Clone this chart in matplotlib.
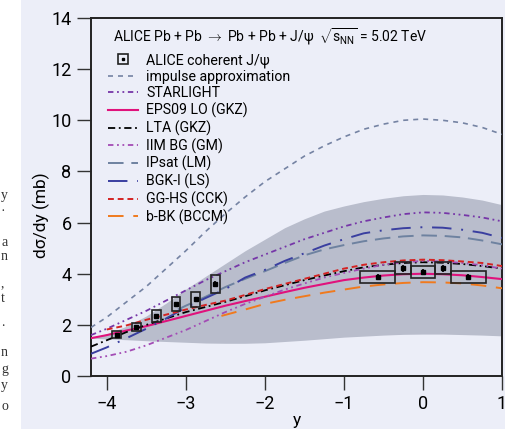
import matplotlib
matplotlib.use("Agg")
import matplotlib.pyplot as plt
from matplotlib.lines import Line2D
from matplotlib.patches import Rectangle
from matplotlib.legend_handler import HandlerTuple

plt.rcParams["font.family"] = ["Roboto", "DejaVu Sans"]
plt.rcParams["mathtext.fontset"] = "custom"
plt.rcParams["mathtext.rm"] = "Roboto"
plt.rcParams["mathtext.it"] = "Roboto"

# rapidity grid for the model curves
ys = [-4.2, -4.0, -3.75, -3.5, -3.25, -3.0, -2.75, -2.5, -2.25, -2.0, -1.75, -1.5,
      -1.25, -1.0, -0.75, -0.5, -0.25, 0.0, 0.25, 0.5, 0.75, 1.0]

impulse = [1.9, 2.3, 2.9, 3.5, 4.2, 4.9, 5.65, 6.35, 7.0, 7.6, 8.1, 8.6,
           9.0, 9.35, 9.65, 9.85, 10.0, 10.05, 10.0, 9.9, 9.72, 9.45]
starlight = [1.6, 1.85, 2.2, 2.55, 2.95, 3.35, 3.75, 4.1, 4.45, 4.75, 5.05, 5.35,
             5.6, 5.85, 6.05, 6.2, 6.33, 6.4, 6.38, 6.3, 6.2, 6.05]
eps09 = [1.48, 1.6, 1.78, 1.95, 2.15, 2.35, 2.55, 2.75, 2.93, 3.1, 3.28, 3.45,
         3.6, 3.75, 3.85, 3.93, 3.98, 4.0, 3.98, 3.94, 3.87, 3.79]
lta = [1.15, 1.4, 1.72, 2.0, 2.25, 2.5, 2.7, 2.9, 3.12, 3.35, 3.55, 3.75,
       3.93, 4.1, 4.25, 4.35, 4.42, 4.45, 4.43, 4.38, 4.3, 4.2]
iim = [0.68, 0.78, 0.95, 1.2, 1.5, 1.8, 2.15, 2.5, 2.82, 3.1, 3.38, 3.62,
       3.85, 4.03, 4.2, 4.35, 4.45, 4.5, 4.48, 4.42, 4.33, 4.2]
bgk = [0.87, 1.12, 1.48, 1.85, 2.25, 2.68, 3.05, 3.4, 3.85, 4.15, 4.5, 4.8,
       5.1, 5.35, 5.58, 5.7, 5.78, 5.82, 5.8, 5.72, 5.6, 5.4]
band_hi = [1.5, 1.65, 1.95, 2.35, 2.85, 3.4, 3.9, 4.4, 4.9, 5.35, 5.8, 6.15,
           6.45, 6.65, 6.82, 6.95, 7.05, 7.1, 7.08, 7.0, 6.88, 6.7]
band_lo = [1.48, 1.45, 1.42, 1.38, 1.35, 1.32, 1.29, 1.28, 1.28, 1.3, 1.35, 1.4,
           1.46, 1.52, 1.56, 1.6, 1.63, 1.64, 1.64, 1.62, 1.6, 1.57]

ys_gg = [-4.0, -3.75, -3.5, -3.25, -3.0, -2.75, -2.5, -2.25, -2.0, -1.75, -1.5,
         -1.25, -1.0, -0.75, -0.5, -0.25, 0.0, 0.25, 0.5, 0.75, 1.0]
gghs = [1.82, 1.98, 2.2, 2.4, 2.6, 2.78, 2.95, 3.17, 3.4, 3.6, 3.8,
        4.0, 4.2, 4.35, 4.45, 4.52, 4.55, 4.53, 4.48, 4.42, 4.3]

ys_ip = [-3.1, -3.0, -2.75, -2.5, -2.25, -2.0, -1.75, -1.5, -1.25, -1.0, -0.75,
         -0.5, -0.25, 0.0, 0.25, 0.5, 0.75, 1.0]
ipsat = [2.6, 2.75, 3.1, 3.48, 3.8, 4.1, 4.42, 4.72, 4.95, 5.12, 5.27,
         5.38, 5.46, 5.5, 5.48, 5.42, 5.3, 5.15]

ys_bbk = [-2.55, -2.25, -2.0, -1.75, -1.5, -1.25, -1.0, -0.75, -0.5, -0.25, 0.0,
          0.25, 0.5, 0.75, 1.0]
bbk = [2.35, 2.6, 2.82, 2.98, 3.12, 3.26, 3.38, 3.5, 3.58, 3.64, 3.67,
       3.66, 3.62, 3.54, 3.43]

# ALICE data, forward rapidity
fwd_lo = [-3.93, -3.68, -3.43, -3.18, -2.93, -2.68]
fwd_hi = [-3.82, -3.57, -3.32, -3.07, -2.82, -2.57]
fwd_val = [1.61, 1.91, 2.36, 2.82, 3.00, 3.59]
fwd_syst = [0.14, 0.16, 0.23, 0.28, 0.29, 0.35]
fwd_stat = [0.05, 0.06, 0.07, 0.08, 0.09, 0.12]
# ALICE data, mid rapidity
mid_lo = [-0.8, -0.35, -0.15, 0.15, 0.35]
mid_hi = [-0.35, -0.15, 0.15, 0.35, 0.8]
mid_val = [3.86, 4.21, 4.07, 4.21, 3.86]
mid_syst = [0.23, 0.23, 0.24, 0.23, 0.23]
mid_stat = [0.12, 0.14, 0.11, 0.14, 0.12]

bg = "#eceef8"
fig = plt.figure(figsize=(5.05, 4.29), dpi=100, facecolor=bg)
ax = fig.add_axes([0.1802, 0.1235, 0.8139, 0.8345])
ax.set_facecolor(bg)

# white page strip on the left with cut-off text
fig.patches.append(Rectangle((0, 0), 21 / 505, 1, transform=fig.transFigure,
                             facecolor="white", edgecolor="none", zorder=-1))
for ch, py in [("y", 195), ("·", 212), ("a", 242), ("n", 257), (",", 284), ("t", 299),
               (".", 323), ("n", 352), ("g", 370), ("y", 386), ("o", 406)]:
    fig.text(1 / 505, 1 - py / 429, ch, fontsize=10, color="#333333",
             family="Liberation Serif", va="center", ha="left")

ax.fill_between(ys, band_lo, band_hi, color="#b9bdcc", lw=0, zorder=1)

styles = [
    ("impulse approximation", ys, impulse, "#7583a3", (0, (3, 3)), 1.2),
    ("STARLIGHT", ys, starlight, "#7636a8", (0, (3, 2, 1, 2, 1, 2)), 1.3),
    ("EPS09 LO (GKZ)", ys, eps09, "#e0127c", "-", 1.5),
    ("LTA (GKZ)", ys, lta, "black", (0, (4, 2, 1, 2)), 1.3),
    ("IIM BG (GM)", ys, iim, "#a34cb5", (0, (3, 2, 1, 2, 1, 2)), 1.3),
    ("IPsat (LM)", ys_ip, ipsat, "#6e82a0", (0, (8, 4)), 1.4),
    ("BGK-I (LS)", ys, bgk, "#3a3fa0", (0, (10, 5, 1, 5)), 1.4),
    ("GG-HS (CCK)", ys_gg, gghs, "#d42323", (0, (3, 2)), 1.4),
    ("b-BK (BCCM)", ys_bbk, bbk, "#f07a1e", (0, (8, 5)), 1.4),
]
handles = []
for label, x, y, c, ls, lw in styles:
    ln, = ax.plot(x, y, color=c, ls=ls, lw=lw, zorder=3, label=label)
    handles.append(ln)

# data boxes and points
for lo, hi, v, s in zip(fwd_lo + mid_lo, fwd_hi + mid_hi, fwd_val + mid_val,
                        fwd_syst + mid_syst):
    ax.add_patch(Rectangle((lo, v - s), hi - lo, 2 * s, facecolor="none",
                           edgecolor="#222222", lw=1.2, zorder=5))
cx = [(a + b) / 2 for a, b in zip(fwd_lo + mid_lo, fwd_hi + mid_hi)]
ax.errorbar(cx, fwd_val + mid_val, yerr=fwd_stat + mid_stat, fmt="s", ms=2.2,
            color="black", lw=1.2, capsize=0, zorder=6)

data_h = (Line2D([], [], marker="s", ms=6.5, mfc="none", mec="#222222", mew=1.2, ls="none"),
          Line2D([], [], marker="s", ms=2.0, color="black", ls="none"))
leg = ax.legend([data_h] + handles, ["ALICE coherent J/\u03c8"] + [s[0] for s in styles],
                handler_map={tuple: HandlerTuple(ndivide=1)},
                loc="upper left", bbox_to_anchor=(0.041, 0.902), frameon=False,
                fontsize=10.2, handlelength=2.1, handletextpad=0.6, labelspacing=0.17,
                borderaxespad=0, borderpad=0)

ax.text(0.0535, 0.947,
        r"ALICE Pb + Pb $\rightarrow$ Pb + Pb + J/$\psi$  $\sqrt{s_{\mathrm{NN}}}$ = 5.02 TeV",
        transform=ax.transAxes, fontsize=10, va="center", ha="left")

ax.set_xlim(-4.2, 1.0)
ax.set_ylim(0, 14)
ax.set_xticks([-4, -3, -2, -1, 0, 1])
ax.set_xticklabels(["\u22124", "\u22123", "\u22122", "\u22121", "0", "1"])
ax.set_yticks([0, 2, 4, 6, 8, 10, 12, 14])
ax.tick_params(direction="out", length=10, width=1, labelsize=13, pad=4, color="#333333")
for sp in ax.spines.values():
    sp.set_linewidth(1.4)
    sp.set_color("#222222")
ax.set_xlabel("y", fontsize=12.5, labelpad=0)
ax.set_ylabel("d\u03c3/dy (mb)", fontsize=12.5)
ax.yaxis.set_label_coords(-0.100, 0.45)

fig.savefig("out.png", dpi=100, facecolor=bg)
